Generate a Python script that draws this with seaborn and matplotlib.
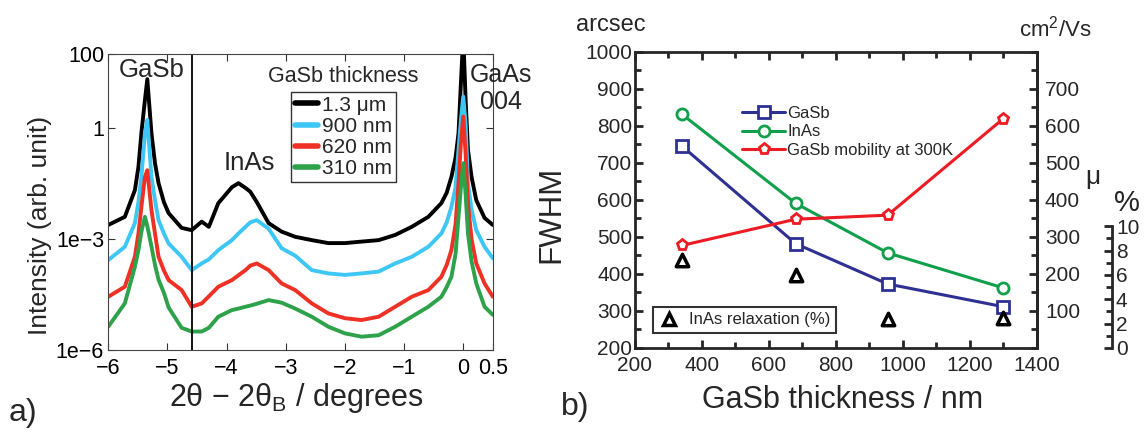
import seaborn as sns
import matplotlib.pyplot as plt
import numpy as np
from matplotlib.lines import Line2D
from matplotlib.ticker import MultipleLocator, FixedLocator

# ---- panel a) XRD scans, log10 intensity ----
two_theta = [-6.0, -5.72, -5.55, -5.49, -5.44, -5.38, -5.34, -5.27, -5.21, -5.15,
             -5.06, -4.98, -4.76, -4.59, -4.42, -4.30, -4.14, -3.91, -3.80, -3.68,
             -3.60, -3.49, -3.29, -3.07, -2.84, -2.56, -2.28, -2.0, -1.72, -1.43,
             -1.15, -0.87, -0.59, -0.37, -0.28, -0.20, -0.13, -0.08, -0.04, 0.0,
             0.04, 0.08, 0.14, 0.22, 0.36, 0.5]
log_1300 = [-2.62, -2.40, -1.68, -1.05, -0.14, 0.76, 1.32, -0.14, -0.95, -1.49,
            -2.00, -2.30, -2.70, -2.76, -2.53, -2.67, -2.03, -1.60, -1.49, -1.62,
            -1.72, -2.00, -2.57, -2.80, -2.94, -3.03, -3.11, -3.11, -3.07, -3.03,
            -2.89, -2.67, -2.40, -2.03, -1.75, -1.32, -0.80, -0.14, 1.20, 2.50,
            0.76, -0.59, -1.32, -1.95, -2.43, -2.62]
log_900 = [-3.57, -3.21, -2.57, -2.00, -1.32, -0.14, 0.22, -1.32, -1.95, -2.49,
           -2.85, -3.12, -3.48, -3.84, -3.66, -3.55, -3.30, -3.03, -2.85, -2.67,
           -2.55, -2.49, -2.72, -3.25, -3.45, -3.84, -3.93, -3.97, -3.93, -3.88,
           -3.66, -3.48, -3.21, -2.85, -2.55, -2.13, -1.60, -0.59, 0.20, 0.85,
           0.10, -1.49, -2.20, -2.76, -3.21, -3.52]
log_620 = [-4.56, -4.29, -3.48, -2.85, -2.13, -1.32, -1.14, -2.22, -2.85, -3.48,
           -3.85, -4.11, -4.38, -4.83, -4.74, -4.55, -4.29, -4.11, -3.98, -3.84,
           -3.72, -3.66, -3.84, -4.20, -4.38, -4.74, -5.01, -5.14, -5.19, -5.10,
           -4.83, -4.56, -4.38, -4.02, -3.70, -3.30, -2.60, -1.49, -0.40, 0.31,
           -0.70, -2.04, -3.00, -3.66, -4.20, -4.56]
log_310 = [-5.37, -4.74, -3.75, -3.30, -2.80, -2.40, -2.65, -3.20, -3.70, -4.10,
           -4.45, -4.85, -5.40, -5.50, -5.50, -5.40, -5.10, -4.92, -4.88, -4.83,
           -4.80, -4.75, -4.65, -4.72, -4.88, -5.10, -5.37, -5.55, -5.64, -5.60,
           -5.37, -5.10, -4.83, -4.56, -4.30, -4.02, -3.40, -2.40, -1.60, -0.95,
           -1.80, -2.85, -3.60, -4.20, -4.83, -5.05]
scan_labels = ['1.3 μm', '900 nm', '620 nm', '310 nm']
scan_colors = ['black', '#3ec7f4', '#ee3124', '#2ea24a']

# ---- panel b) vs GaSb thickness ----
thickness = [340, 680, 955, 1298]
fwhm_gasb = [746, 482, 373, 312]
fwhm_inas = [832, 591, 457, 363]
mobility = [277, 348, 359, 618]
relaxation = [7.2, 6.0, 2.4, 2.5]

sns.set_theme(style="ticks")
plt.rcParams['font.family'] = ['Liberation Sans', 'DejaVu Sans']
plt.rcParams['mathtext.default'] = 'regular'

fig = plt.figure(figsize=(11.48, 4.34), dpi=100)
ax1 = fig.add_axes([0.0943, 0.1935, 0.335, 0.682])

scans = [log_1300, log_900, log_620, log_310]
for vals, lab, col in zip(scans, scan_labels, scan_colors):
    sns.lineplot(x=two_theta, y=np.power(10.0, vals), ax=ax1, color=col, lw=2.8,
                 label=lab, sort=False)
ax1.set_yscale('log')
ax1.set_xlim(-6, 0.5)
ax1.set_ylim(1e-6, 100)
ax1.axvline(-4.59, color='black', lw=1.3)
ax1.set_xticks([-6, -5, -4, -3, -2, -1, 0, 0.5])
ax1.set_xticklabels(['−6', '−5', '−4', '−3', '−2', '−1', '0', '0.5'])
ax1.set_yticks([1e-6, 1e-3, 1, 100])
ax1.set_yticklabels(['1e−6', '1e−3', '1', '100'])
ax1.minorticks_off()
ax1.tick_params(direction='in', length=5, width=0.8, labelsize=15.5, pad=3,
                top=True, right=True, colors='#333333', labelcolor='black')
ax1.tick_params(axis='x', pad=6)
for s in ax1.spines.values():
    s.set_linewidth(0.8)
    s.set_color('#444444')
ax1.set_xlabel('2θ − 2θ$_B$ / degrees', fontsize=22)
ax1.xaxis.set_label_coords(0.488, -0.105)
ax1.set_ylabel('Intensity (arb. unit)', fontsize=19)
ax1.yaxis.set_label_coords(-0.147, 0.42)
leg1 = ax1.legend(loc='upper left', bbox_to_anchor=(0.475, 0.873), fontsize=15,
                  frameon=True, fancybox=False, edgecolor='black',
                  handlelength=1.1, handletextpad=0.2, labelspacing=0.1,
                  borderpad=0.2, borderaxespad=0)
leg1.get_frame().set_linewidth(1.0)
for h in leg1.get_lines():
    h.set_linewidth(4)
ax1.text(0.113, 0.946, 'GaSb', transform=ax1.transAxes, ha='center', va='center', fontsize=18.5)
ax1.text(0.368, 0.631, 'InAs', transform=ax1.transAxes, ha='center', va='center', fontsize=18.5)
ax1.text(0.611, 0.923, 'GaSb thickness', transform=ax1.transAxes, ha='center', va='center',
         fontsize=15.5)
ax1.text(1.02, 0.883, 'GaAs\n004', transform=ax1.transAxes, ha='center', va='center',
         fontsize=18, linespacing=1.15, clip_on=False)

# ---- panel b ----
blue, green, red = '#2e3192', '#10a04b', '#ed1c24'
ax2 = fig.add_axes([0.5531, 0.1982, 0.3499, 0.682])
mk = dict(markersize=8, markerfacecolor='white', markeredgewidth=2)
sns.lineplot(x=thickness, y=fwhm_gasb, ax=ax2, color=blue, lw=2.2, marker='s',
             markeredgecolor=blue, **mk)
sns.lineplot(x=thickness, y=fwhm_inas, ax=ax2, color=green, lw=2.2, marker='o',
             markeredgecolor=green, **mk)
ax2.set_xlim(200, 1400)
ax2.set_ylim(200, 1000)
ax2.xaxis.set_major_locator(MultipleLocator(200))
ax2.xaxis.set_minor_locator(MultipleLocator(100))
ax2.yaxis.set_major_locator(MultipleLocator(100))
ax2.yaxis.set_minor_locator(MultipleLocator(50))
ax2.tick_params(which='both', direction='in', width=2, labelsize=15, pad=2,
                top=True, right=False)
ax2.tick_params(axis='x', pad=6)
ax2.tick_params(which='major', length=6)
ax2.tick_params(which='minor', length=4)
for s in ax2.spines.values():
    s.set_linewidth(2)
ax2.set_xlabel('GaSb thickness / nm', fontsize=22)
ax2.xaxis.set_label_coords(0.518, -0.125)
ax2.set_ylabel('FWHM', fontsize=22.5)
ax2.yaxis.set_label_coords(-0.170, 0.45)

ax_mu = ax2.twinx()
sns.lineplot(x=thickness, y=mobility, ax=ax_mu, color=red, lw=2.2, marker='p',
             markeredgecolor=red, **mk)
ax_mu.set_ylim(0, 800)
ax_mu.set_yticks([100, 200, 300, 400, 500, 600, 700])
ax_mu.yaxis.set_minor_locator(MultipleLocator(50))
ax_mu.tick_params(which='both', direction='in', width=2, labelsize=15, pad=6)
ax_mu.tick_params(which='major', length=6)
ax_mu.tick_params(which='minor', length=4)
for k in ['left', 'top', 'bottom']:
    ax_mu.spines[k].set_visible(False)
ax_mu.spines['right'].set_linewidth(2)
ax_mu.set_ylabel('')

ax_pct = ax2.twinx()
sns.scatterplot(x=thickness, y=relaxation, ax=ax_pct, marker='^', s=80,
                color='white', edgecolor='black', linewidth=2.5, zorder=5)
ax_pct.set_ylim(0, 24.3)
ax_pct.spines['right'].set_position(('axes', 1.187))
ax_pct.spines['right'].set_bounds(0, 10)
ax_pct.spines['right'].set_linewidth(2)
for k in ['left', 'top', 'bottom']:
    ax_pct.spines[k].set_visible(False)
ax_pct.yaxis.set_major_locator(FixedLocator([0, 2, 4, 6, 8, 10]))
ax_pct.yaxis.set_minor_locator(FixedLocator([1, 3, 5, 7, 9]))
ax_pct.tick_params(which='both', direction='in', width=2, labelsize=15, pad=3)
ax_pct.tick_params(which='major', length=6)
ax_pct.tick_params(which='minor', length=4)
ax_pct.set_ylabel('')

handles = [Line2D([], [], color=blue, lw=2.2, marker='s', markeredgecolor=blue, **mk),
           Line2D([], [], color=green, lw=2.2, marker='o', markeredgecolor=green, **mk),
           Line2D([], [], color=red, lw=2.2, marker='p', markeredgecolor=red, **mk)]
leg2 = ax_pct.legend(handles, ['GaSb', 'InAs', 'GaSb mobility at 300K'], loc='upper left',
                     bbox_to_anchor=(0.25, 0.84), frameon=False, fontsize=12,
                     handlelength=2.6, handletextpad=0.1, labelspacing=0.2,
                     borderaxespad=0, numpoints=1)
ax_pct.add_artist(leg2)
tri = Line2D([], [], ls='none', marker='^', markersize=8, markerfacecolor='white',
             markeredgecolor='black', markeredgewidth=2.5)
leg3 = ax_pct.legend([tri], ['InAs relaxation (%)'], loc='lower left',
                     bbox_to_anchor=(0.045, 0.05), frameon=True, fancybox=False,
                     edgecolor='black', fontsize=12, handlelength=1.2,
                     handletextpad=0.6, borderpad=0.35, borderaxespad=0)
leg3.get_frame().set_linewidth(1.5)

fig.text(0.532, 0.942, 'arcsec', ha='center', va='center', fontsize=17)
fig.text(0.919, 0.935, 'cm$^2$/Vs', ha='center', va='center', fontsize=16)
fig.text(0.952, 0.592, 'μ', ha='center', va='center', fontsize=19)
fig.text(0.982, 0.532, '%', ha='center', va='center', fontsize=21)
fig.text(0.020, 0.048, 'a)', ha='center', va='center', fontsize=23)
fig.text(0.501, 0.062, 'b)', ha='center', va='center', fontsize=23)

fig.savefig('out.png', dpi=100)
